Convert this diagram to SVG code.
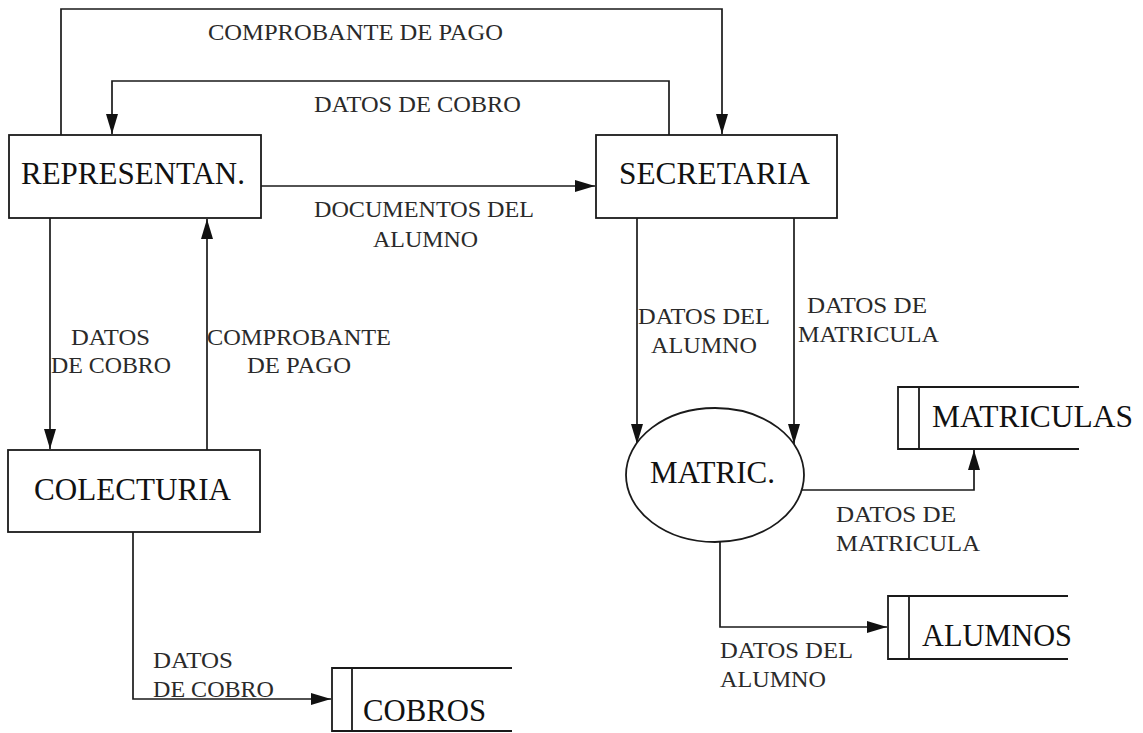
<svg xmlns="http://www.w3.org/2000/svg" width="1143" height="733" viewBox="0 0 1143 733">
<style>
.box{fill:#fff;stroke:#1a1a1a;stroke-width:1.8}
.store{fill:none;stroke:#1a1a1a;stroke-width:1.8}
.big{font-family:'Liberation Serif','DejaVu Serif','Times New Roman',serif;font-size:31px;fill:#111}
.lbl{font-family:'Liberation Serif','DejaVu Serif','Times New Roman',serif;font-size:22.5px;fill:#2a2a2a}
.conn{fill:none;stroke:#1a1a1a;stroke-width:1.7;marker-end:url(#arr)}
</style>
<defs>
<marker id="arr" markerUnits="userSpaceOnUse" markerWidth="22" markerHeight="14" refX="20" refY="7" orient="auto">
<path d="M0,1 L20,7 L0,13 z" fill="#111"/>
</marker>
</defs>
<rect width="1143" height="733" fill="#fff"/>
<g id="connectors">
<path class="conn" d="M61,135 V9 H722 V134"/>
<path class="conn" d="M669,135 V81 H112 V134"/>
<path class="conn" d="M261,186 H595"/>
<path class="conn" d="M50,218 V449"/>
<path class="conn" d="M207,450 V219"/>
<path class="conn" d="M133,532 V699 H331"/>
<path class="conn" d="M637,218 V444"/>
<path class="conn" d="M794,218 V444"/>
<path class="conn" d="M802,490 H974 V450"/>
<path class="conn" d="M720,542 V627 H887"/>
</g>
<g id="labels" font-family="'Liberation Serif', 'DejaVu Serif', serif">
<text class="lbl" x="208" y="40" textLength="295" lengthAdjust="spacingAndGlyphs">COMPROBANTE DE PAGO</text>
<text class="lbl" x="314" y="112" textLength="207" lengthAdjust="spacingAndGlyphs">DATOS DE COBRO</text>
<text class="lbl" x="314" y="217" textLength="220" lengthAdjust="spacingAndGlyphs">DOCUMENTOS DEL</text>
<text class="lbl" x="373" y="247" textLength="105" lengthAdjust="spacingAndGlyphs">ALUMNO</text>
<text class="lbl" x="71" y="345" textLength="79" lengthAdjust="spacingAndGlyphs">DATOS</text>
<text class="lbl" x="51" y="373" textLength="120" lengthAdjust="spacingAndGlyphs">DE COBRO</text>
<text class="lbl" x="207" y="345" textLength="184" lengthAdjust="spacingAndGlyphs">COMPROBANTE</text>
<text class="lbl" x="247" y="373" textLength="104" lengthAdjust="spacingAndGlyphs">DE PAGO</text>
<text class="lbl" x="153" y="668" textLength="80" lengthAdjust="spacingAndGlyphs">DATOS</text>
<text class="lbl" x="153" y="697" textLength="121" lengthAdjust="spacingAndGlyphs">DE COBRO</text>
<text class="lbl" x="638" y="324" textLength="132" lengthAdjust="spacingAndGlyphs">DATOS DEL</text>
<text class="lbl" x="651" y="353" textLength="106" lengthAdjust="spacingAndGlyphs">ALUMNO</text>
<text class="lbl" x="807" y="313" textLength="120" lengthAdjust="spacingAndGlyphs">DATOS DE</text>
<text class="lbl" x="798" y="342" textLength="141" lengthAdjust="spacingAndGlyphs">MATRICULA</text>
<text class="lbl" x="836" y="522" textLength="120" lengthAdjust="spacingAndGlyphs">DATOS DE</text>
<text class="lbl" x="836" y="551" textLength="144" lengthAdjust="spacingAndGlyphs">MATRICULA</text>
<text class="lbl" x="720" y="658" textLength="133" lengthAdjust="spacingAndGlyphs">DATOS DEL</text>
<text class="lbl" x="720" y="687" textLength="106" lengthAdjust="spacingAndGlyphs">ALUMNO</text>
</g>
<g id="representan">
<rect class="box" x="9" y="135" width="252" height="83"/>
<text class="big" x="21" y="184" textLength="224" lengthAdjust="spacingAndGlyphs">REPRESENTAN.</text>
</g>
<g id="secretaria">
<rect class="box" x="596" y="135" width="241" height="83"/>
<text class="big" x="619" y="184" textLength="191" lengthAdjust="spacingAndGlyphs">SECRETARIA</text>
</g>
<g id="colecturia">
<rect class="box" x="8" y="450" width="252" height="82"/>
<text class="big" x="34" y="500" textLength="197" lengthAdjust="spacingAndGlyphs">COLECTURIA</text>
</g>
<g id="matric">
<ellipse class="box" cx="715" cy="475" rx="89" ry="67"/>
<text class="big" x="650" y="483" textLength="125" lengthAdjust="spacingAndGlyphs">MATRIC.</text>
</g>
<g id="matriculas">
<path class="store" d="M1079,387 H898 V449 H1079 M919,387 V449"/>
<text class="big" x="932" y="427" textLength="201" lengthAdjust="spacingAndGlyphs">MATRICULAS</text>
</g>
<g id="alumnos">
<path class="store" d="M1068,596 H888 V659 H1068 M909,596 V659"/>
<text class="big" x="922" y="646" textLength="150" lengthAdjust="spacingAndGlyphs">ALUMNOS</text>
</g>
<g id="cobros">
<path class="store" d="M512,668 H332 V731 H512 M352,668 V731"/>
<text class="big" x="363" y="721" textLength="123" lengthAdjust="spacingAndGlyphs">COBROS</text>
</g>
</svg>
